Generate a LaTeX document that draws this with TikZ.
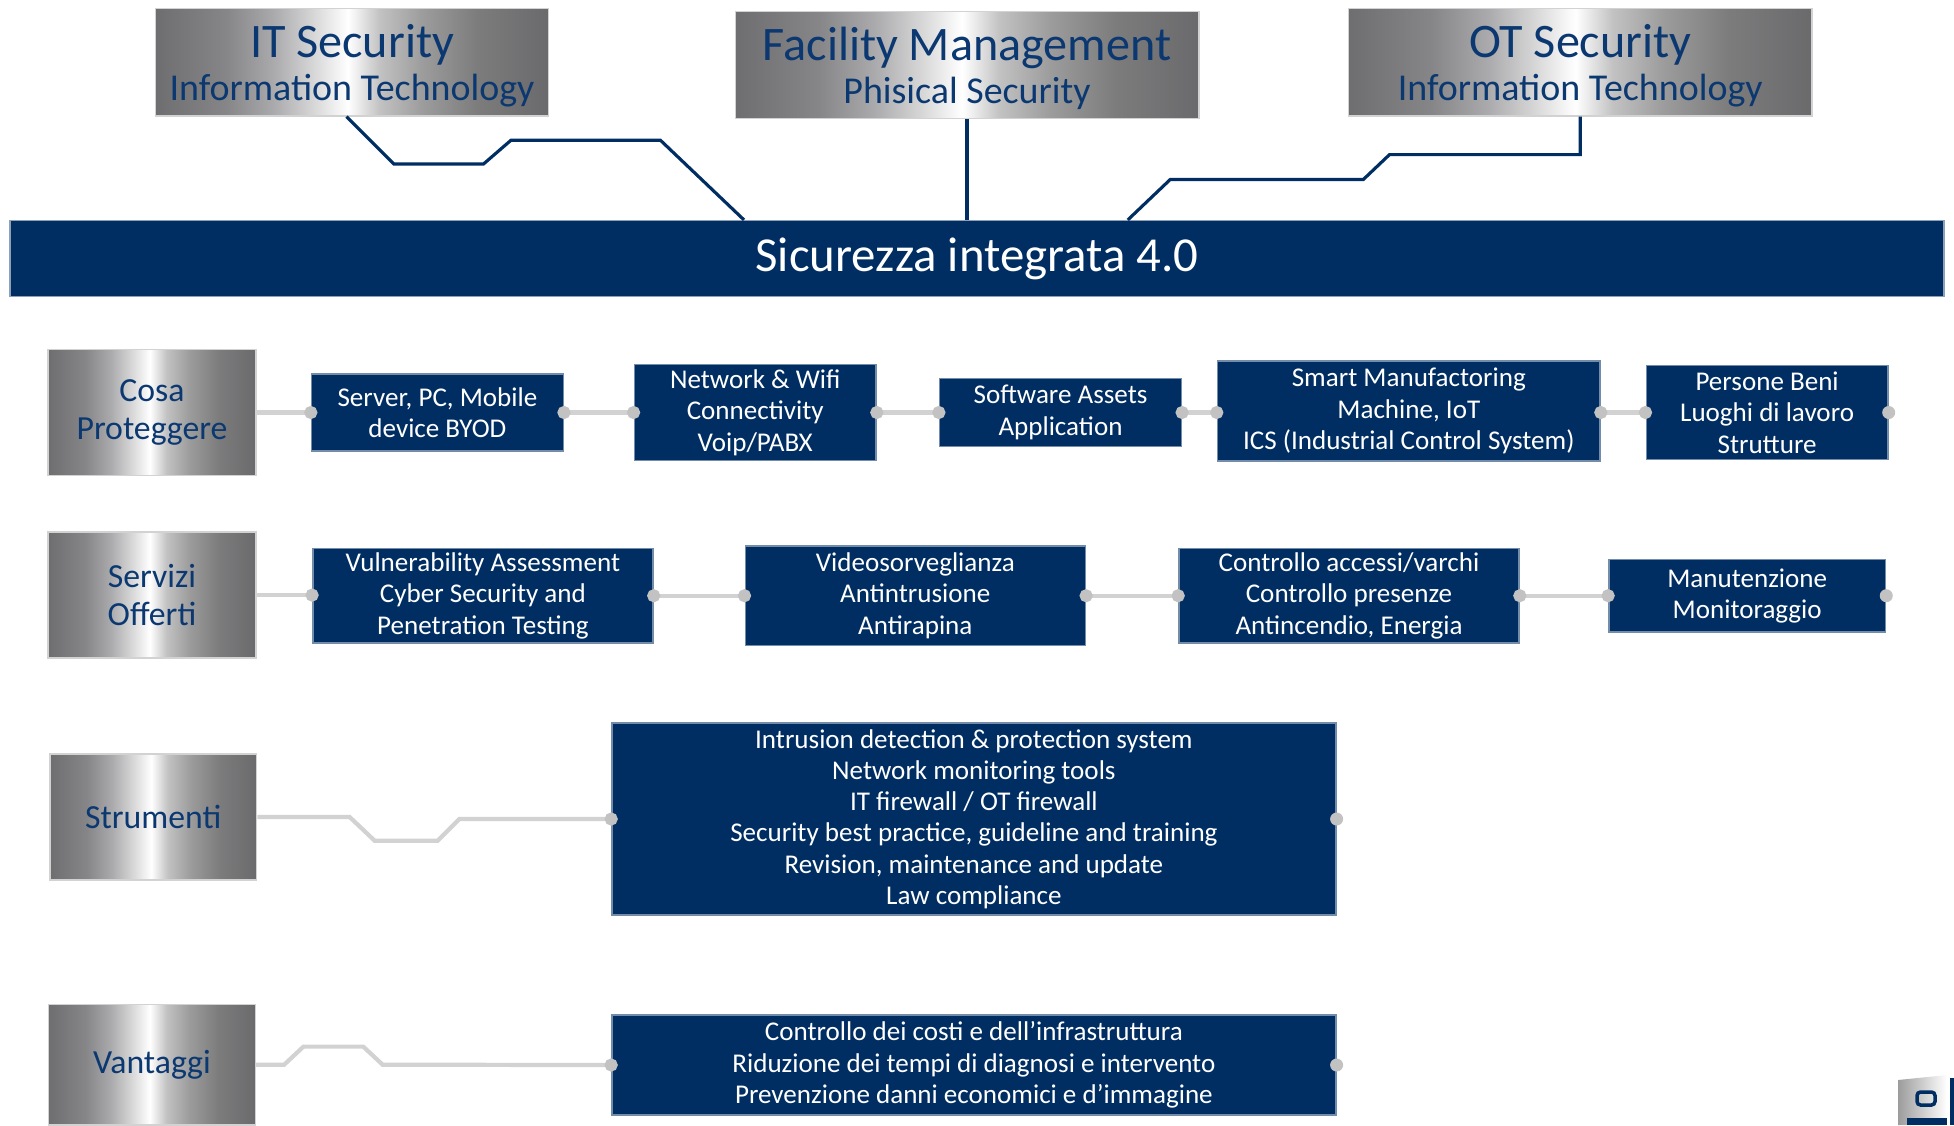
\documentclass[tikz,border=0pt]{standalone}
\usepackage{fontspec}
\setmainfont{Carlito}
\usetikzlibrary{positioning,arrows.meta}

\definecolor{navy}{HTML}{002E62}
\definecolor{navytext}{HTML}{0B3870}
\definecolor{wiregray}{HTML}{D2D2D2}
\definecolor{dotgray}{HTML}{C2C2C2}
\definecolor{steela}{HTML}{6E6E70}
\definecolor{steelb}{HTML}{868688}
\definecolor{steelc}{HTML}{AAAAAC}
\definecolor{steeld}{HTML}{D6D6D7}
\definecolor{steele}{HTML}{C2C2C3}
\definecolor{steelf}{HTML}{9C9C9D}
\definecolor{steelg}{HTML}{7C7C7D}
\definecolor{steelh}{HTML}{6A6A6C}

\pgfdeclarehorizontalshading{metal}{100bp}{color(0bp)=(steela); color(25bp)=(steela);
  color(34bp)=(steelb); color(40bp)=(steelc); color(45bp)=(steeld); color(49.5bp)=(white);
  color(53.5bp)=(steele); color(59bp)=(steelf); color(66bp)=(steelg); color(75bp)=(steelh);
  color(100bp)=(steelh)}

\begin{document}
\begin{tikzpicture}[
    topbox/.style={shade, shading=metal, draw=gray!35, line width=0.4pt,
      minimum height=1.072cm, inner sep=0pt, align=center, text=navytext,
      font=\fontsize{10.8}{12.3}\selectfont},
    rowbox/.style={shade, shading=metal, draw=gray!35, line width=0.4pt,
      minimum width=2.08cm, minimum height=1.259cm, inner sep=0pt, align=center,
      text=navytext, font=\fontsize{9.6}{10.6}\selectfont},
    bluebox/.style={fill=navy, draw=navy!55!white, line width=0.4pt, inner sep=0pt,
      align=center, text=white, font=\fontsize{7.7}{8.9}\selectfont},
    titlebar/.style={fill=navy, draw=navy!45!white, line width=0.4pt, inner sep=0pt,
      text=white, font=\fontsize{13.9}{15}\selectfont},
    link/.style={draw=navy, line width=0.9pt},
    wire/.style={draw=wiregray, line width=1.2pt, shorten >=-1.85pt,
      -{Circle[length=3.7pt, color=dotgray]}},
    wire2/.style={wire, shorten <=-1.85pt,
      {Circle[length=3.7pt, color=dotgray]}-{Circle[length=3.7pt, color=dotgray]}},
    dot/.style={fill=dotgray}
  ]
  \useasboundingbox (0,0) rectangle (19.54,-11.25);

  % top boxes
  \node[topbox, minimum width=3.926cm] (itsec) at (3.520,-0.623)
    {{\fontsize{13.7}{14}\selectfont\rule{0pt}{11.5pt}IT Security}\\Information Technology};
  \node[topbox, minimum width=4.636cm] (fmsec) at (9.670,-0.648)
    {{\fontsize{13.7}{14}\selectfont\rule{0pt}{11.5pt}Facility Management}\\Phisical Security};
  \node[topbox, minimum width=4.636cm] (otsec) at (15.802,-0.623)
    {{\fontsize{13.7}{14}\selectfont\rule{0pt}{11.5pt}OT Security}\\Information Technology};

  \node[titlebar, minimum width=19.34cm, minimum height=0.76cm] (sic) at (9.770,-2.586)
    {Sicurezza integrata 4.0};

  % links to the bar
  \draw[link] ([xshift=-0.56mm]itsec.south) -- ++(0.474,-0.474) -- ++(0.897,0)
    -- ++(0.274,0.237) -- ++(1.496,0) -- (7.44,0 |- sic.north);
  \draw[link] (fmsec.south) -- (fmsec.south |- sic.north);
  \draw[link] (otsec.south) -- ++(0,-0.38) -- ++(-1.907,0) -- ++(-0.262,-0.249)
    -- ++(-1.931,0) -- (11.278,0 |- sic.north);

  % Cosa Proteggere
  \node[rowbox] (cosa) at (1.520,-4.125) {Cosa\\Proteggere};
  \node[bluebox, minimum width=2.517cm, minimum height=0.773cm] (p1) at (4.374,-4.125)
    {Server, PC, Mobile\\device BYOD};
  \node[bluebox, minimum width=2.418cm, minimum height=0.960cm] (p2) at (7.552,-4.125)
    {Network \& Wifi\\Connectivity\\Voip/PABX};
  \node[bluebox, minimum width=2.418cm, minimum height=0.685cm] (p3) at (10.605,-4.125)
    {Software Assets\\Application};
  \node[bluebox, minimum width=3.826cm, minimum height=0.997cm] (p4) at (14.088,-4.110)
    {Smart Manufactoring\\Machine, IoT\\ICS (Industrial Control System)};
  \node[bluebox, minimum width=2.418cm, minimum height=0.935cm] (p5) at (17.671,-4.125)
    {Persone Beni\\Luoghi di lavoro\\Strutture};

  \draw[wire] (cosa.east) -- (p1.west);
  \draw[wire2] (p1.east) -- (p2.west);
  \draw[wire2] (p2.east) -- (p3.west);
  \draw[wire2] (p3.east) -- (p3.east -| p4.west);
  \draw[wire2] (p4.east |- p5.west) -- (p5.west);
  \fill[dot] (p5.east) circle (1.85pt);

  % Servizi Offerti
  \node[rowbox] (servizi) at (1.520,-5.951) {Servizi\\Offerti};
  \node[bluebox, minimum width=3.402cm, minimum height=0.947cm] (s1) at (4.829,-5.957)
    {Vulnerability Assessment\\Cyber Security and\\Penetration Testing};
  \node[bluebox, minimum width=3.402cm, minimum height=0.997cm] (s2) at (9.153,-5.957)
    {Videosorveglianza\\Antintrusione\\Antirapina};
  \node[bluebox, minimum width=3.402cm, minimum height=0.947cm] (s3) at (13.490,-5.957)
    {Controllo accessi/varchi\\Controllo presenze\\Antincendio, Energia};
  \node[bluebox, minimum width=2.767cm, minimum height=0.723cm] (s4) at (17.472,-5.957)
    {Manutenzione\\Monitoraggio};

  \draw[wire] (servizi.east) -- (servizi.east -| s1.west);
  \draw[wire2] (s1.east) -- (s2.west);
  \draw[wire2] (s2.east) -- (s3.west);
  \draw[wire2] (s3.east) -- (s4.west);
  \fill[dot] (s4.east) circle (1.85pt);

  % Strumenti
  \node[rowbox, minimum width=2.069cm] (strumenti) at (1.533,-8.17) {Strumenti};
  \node[bluebox, minimum width=7.240cm, minimum height=1.919cm] (tools) at (9.739,-8.19)
    {Intrusion detection \& protection system\\Network monitoring tools\\IT firewall / OT firewall\\
     Security best practice, guideline and training\\Revision, maintenance and update\\Law compliance};
  \draw[wire] (strumenti.east) -- ++(0.922,0) -- ++(0.25,-0.237) -- ++(0.629,0)
    -- ++(0.218,0.217) -- (tools.west);
  \fill[dot] (tools.east) circle (1.85pt);

  % Vantaggi
  \node[rowbox, minimum width=2.069cm, minimum height=1.206cm] (vantaggi) at (1.520,-10.647) {Vantaggi};
  \node[bluebox, minimum width=7.240cm, minimum height=0.997cm] (gain) at (9.739,-10.65)
    {Controllo dei costi e dell’infrastruttura\\Riduzione dei tempi di diagnosi e intervento\\
     Prevenzione danni economici e d’immagine};
  \draw[wire] (vantaggi.east) -- ++(0.28,0) -- ++(0.193,0.181) -- ++(0.598,0)
    -- ++(0.194,-0.181) -- (gain.west);
  \fill[dot] (gain.east) circle (1.85pt);

  % logo corner
  \shade[left color=steelf, right color=white] (18.98,-10.80) -- (19.47,-10.75)
    -- (19.47,-11.25) -- (18.98,-11.25) -- cycle;
  \fill[navy] (19.07,-11.18) rectangle (19.47,-11.25);
  \fill[navy] (19.50,-10.78) rectangle (19.54,-11.25);
  \draw[navy, line width=1pt, rounded corners=1pt] (19.17,-10.92) rectangle (19.35,-11.05);

\end{tikzpicture}
\end{document}
